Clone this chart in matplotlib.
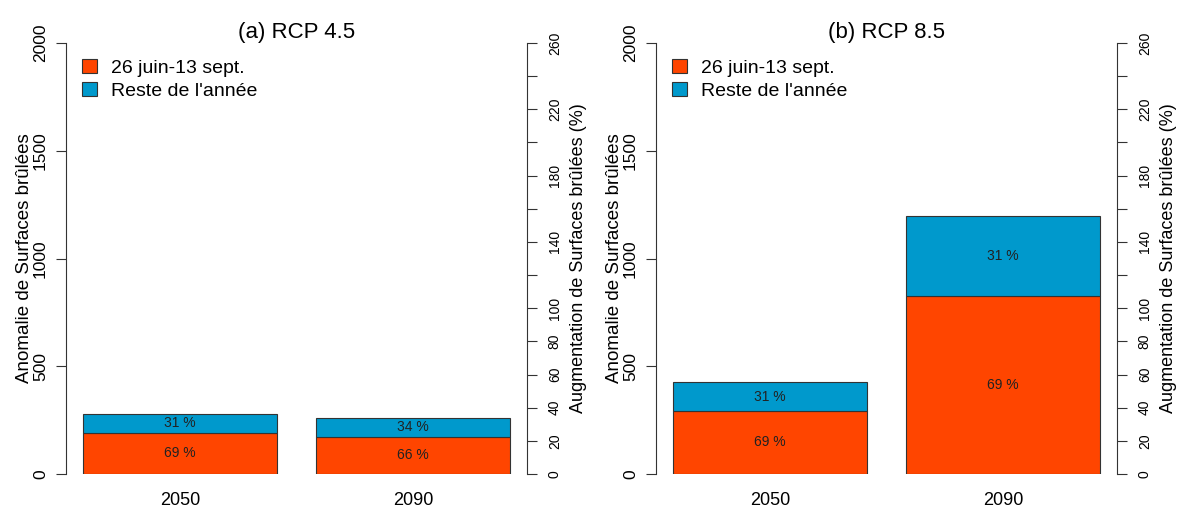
"""Stacked bars of burned-area anomaly, RCP 4.5 vs RCP 8.5."""

import matplotlib
matplotlib.use("Agg")
import matplotlib.pyplot as plt
from matplotlib.patches import Patch

plt.rcParams["font.family"] = ["Liberation Sans", "DejaVu Sans"]

years = ["2050", "2090"]
panels = ["(a) RCP 4.5", "(b) RCP 8.5"]
series = ["26 juin-13 sept.", "Reste de l'année"]

# anomaly values per panel: summer part, rest of year
summer = [[192, 173], [293, 825]]
rest = [[86, 89], [132, 370]]
summer_pct = [[69, 66], [69, 69]]
rest_pct = [[31, 34], [31, 31]]

left_ticks = [0, 500, 1000, 1500, 2000]
right_ticks = list(range(0, 261, 20))
right_labels = [0, 20, 40, 60, 80, 100, 140, 180, 220, 260]

c_summer = "#FF4500"
c_rest = "#0099CC"
edge = "#333333"

fig = plt.figure(figsize=(11.8, 5.09), dpi=100)
axes_left = [66 / 1180, 656 / 1180]
bottom = (509 - 474) / 509
height = (474 - 43) / 509
width = 461 / 1180

for k in range(2):
    ax = fig.add_axes([axes_left[k], bottom, width, height])
    xs = [0.7, 1.9]
    ax.bar(xs, summer[k], width=1.0, color=c_summer, edgecolor=edge, linewidth=0.8)
    ax.bar(xs, rest[k], width=1.0, bottom=summer[k], color=c_rest, edgecolor=edge, linewidth=0.8)
    for i, x in enumerate(xs):
        ax.text(x, summer[k][i] / 2, f"{summer_pct[k][i]} %", ha="center", va="center", fontsize=10, color="#222222")
        ax.text(x, summer[k][i] + rest[k][i] / 2, f"{rest_pct[k][i]} %", ha="center", va="center", fontsize=10, color="#222222")

    ax.set_xlim(0.112, 2.488)
    ax.set_ylim(0, 2000)
    ax.set_xticks(xs)
    ax.set_xticklabels(years, fontsize=13)
    ax.tick_params(axis="x", length=0, pad=13)
    ax.set_yticks(left_ticks)
    ax.set_yticklabels([str(t) for t in left_ticks], rotation=90, va="center", fontsize=12.5)
    ax.tick_params(axis="y", length=7, color=edge, pad=6)
    for s in ["top", "right", "bottom"]:
        ax.spines[s].set_visible(False)
    ax.spines["left"].set_color(edge)
    ax.set_ylabel("Anomalie de Surfaces brûlées", fontsize=13.5, labelpad=0)
    ax.set_title(panels[k], fontsize=16, pad=3)

    ax2 = ax.twinx()
    ax2.set_ylim(0, 260)
    ax2.set_yticks(right_ticks)
    ax2.set_yticklabels([str(t) if t in right_labels else "" for t in right_ticks],
                        rotation=90, va="center", fontsize=10)
    ax2.tick_params(axis="y", length=7, color=edge, pad=8)
    for s in ["top", "left", "bottom"]:
        ax2.spines[s].set_visible(False)
    ax2.spines["right"].set_color(edge)
    ax2.set_ylabel("Augmentation de Surfaces brûlées (%)", fontsize=13, labelpad=6)

    handles = [Patch(facecolor=c_summer, edgecolor=edge, linewidth=0.8),
               Patch(facecolor=c_rest, edgecolor=edge, linewidth=0.8)]
    ax.legend(handles, series, loc="upper left", frameon=False, fontsize=14,
              handlelength=0.8, handleheight=0.8, handletextpad=0.7,
              labelspacing=0.25, borderaxespad=0.5, borderpad=0.3)

fig.savefig("out.png", dpi=100)
